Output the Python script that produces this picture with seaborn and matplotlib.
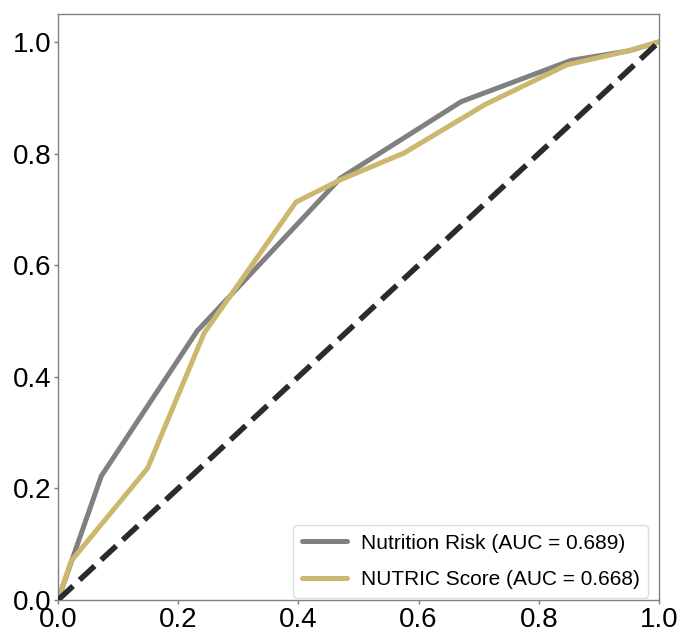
import matplotlib
matplotlib.use("Agg")
import matplotlib.pyplot as plt
import seaborn as sns
import pandas as pd

# ROC curve points
nr_fpr = [0.0, 0.072, 0.2315, 0.470, 0.671, 0.854, 0.95, 1.0]
nr_tpr = [0.0, 0.222, 0.482, 0.756, 0.893, 0.967, 0.984, 1.0]
nutric_fpr = [0.0, 0.022, 0.149, 0.243, 0.396, 0.470, 0.576, 0.711, 0.847, 0.949, 1.0]
nutric_tpr = [0.0, 0.070, 0.236, 0.478, 0.713, 0.753, 0.801, 0.888, 0.959, 0.984, 1.0]
diag = [0.0, 1.0]
labels = ["Nutrition Risk (AUC = 0.689)", "NUTRIC Score (AUC = 0.668)"]
ticks = [0.0, 0.2, 0.4, 0.6, 0.8, 1.0]

sns.set_style("white")
plt.rcParams['font.family'] = ['Liberation Sans', 'DejaVu Sans']

fig = plt.figure(figsize=(6.8, 6.33), dpi=100)
ax = fig.add_axes([58/680, 33/633, 601/680, 586/633])

df1 = pd.DataFrame({"fpr": nr_fpr, "tpr": nr_tpr})
df2 = pd.DataFrame({"fpr": nutric_fpr, "tpr": nutric_tpr})
sns.lineplot(data=df1, x="fpr", y="tpr", sort=False, color="#808080", lw=3.6,
             label=labels[0], ax=ax)
sns.lineplot(data=df2, x="fpr", y="tpr", sort=False, color="#cbb86e", lw=3.6,
             label=labels[1], ax=ax)
ax.plot(diag, diag, linestyle="--", color="#2b2b2b", lw=4.0, zorder=3)

ax.set_xlim(0, 1.0)
ax.set_ylim(0, 1.05)
ax.set_xticks(ticks)
ax.set_yticks(ticks)
ax.set_xticklabels([f"{t:.1f}" for t in ticks])
ax.set_yticklabels([f"{t:.1f}" for t in ticks])
ax.tick_params(axis="both", labelsize=20, length=3, width=1, color="#808080",
               labelcolor="black", direction="out", bottom=True, left=True, pad=2)
ax.set_xlabel("")
ax.set_ylabel("")
for s in ax.spines.values():
    s.set_color("#808080")
    s.set_linewidth(1.0)

leg = ax.legend(loc="lower right", bbox_to_anchor=(0.982, 0.004), borderaxespad=0,
                fontsize=15, handlelength=2.2, handletextpad=0.65,
                labelspacing=0.85, borderpad=0.4,
                frameon=True, framealpha=1.0)
leg.get_frame().set_edgecolor("#dddddd")
for t in leg.get_texts():
    t.set_color("black")

fig.savefig("out.png", dpi=100)
